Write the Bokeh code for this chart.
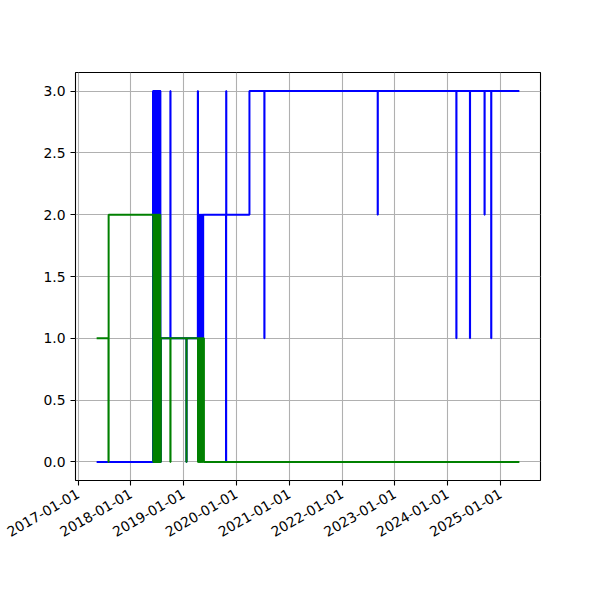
import math
from datetime import datetime
from bokeh.plotting import figure
from bokeh.models import Range1d, FixedTicker, DatetimeTickFormatter, NumeralTickFormatter
from bokeh.embed import file_html
from bokeh.resources import INLINE

blue_dates = [
    "2017-05-09", "2018-06-03", "2018-06-06", "2018-06-09", "2018-06-12", "2018-06-15",
    "2018-06-18", "2018-06-21", "2018-06-24", "2018-06-27", "2018-06-30", "2018-07-03",
    "2018-07-06", "2018-07-09", "2018-07-12", "2018-07-15", "2018-07-18", "2018-07-21",
    "2018-07-24", "2018-07-27", "2018-10-01", "2018-10-02", "2019-01-20", "2019-01-21",
    "2019-04-09", "2019-04-10", "2019-04-14", "2019-04-18", "2019-04-22", "2019-04-26",
    "2019-04-30", "2019-05-04", "2019-05-08", "2019-05-12", "2019-05-16", "2019-05-21",
    "2019-10-21", "2019-10-22", "2019-10-23", "2020-03-31", "2020-07-12", "2020-07-13",
    "2022-09-04", "2022-09-05", "2024-03-01", "2024-03-02", "2024-06-03", "2024-06-04",
    "2024-09-12", "2024-09-13", "2024-10-28", "2024-10-29", "2025-05-11",
]
blue_values = [
    0, 3, 0, 3, 0, 3,
    0, 3, 0, 3, 0, 3,
    0, 3, 0, 3, 0, 3,
    0, 1, 3, 1, 0, 1,
    3, 1, 2, 1, 2, 1,
    2, 1, 2, 1, 2, 2,
    0, 3, 2, 3, 1, 3,
    2, 3, 1, 3, 1, 3,
    2, 3, 1, 3, 3,
]

green_dates = [
    "2017-05-09", "2017-07-30", "2017-07-31", "2018-06-05", "2018-06-08", "2018-06-11",
    "2018-06-14", "2018-06-17", "2018-06-20", "2018-06-23", "2018-06-26", "2018-06-29",
    "2018-07-02", "2018-07-05", "2018-07-08", "2018-07-11", "2018-07-14", "2018-07-17",
    "2018-07-20", "2018-07-23", "2018-07-27", "2018-10-01", "2018-10-02", "2019-01-20",
    "2019-01-21", "2019-04-10", "2019-04-14", "2019-04-18", "2019-04-22", "2019-04-26",
    "2019-04-30", "2019-05-04", "2019-05-08", "2019-05-12", "2019-05-16", "2019-05-21",
    "2025-05-11",
]
green_values = [
    1, 0, 2, 0, 2, 0,
    2, 0, 2, 0, 2, 0,
    2, 0, 2, 0, 2, 0,
    2, 0, 1, 0, 1, 0,
    1, 0, 1, 0, 1, 0,
    1, 0, 1, 0, 1, 0,
    0,
]

year_ticks = ["2017-01-01", "2018-01-01", "2019-01-01", "2020-01-01", "2021-01-01",
              "2022-01-01", "2023-01-01", "2024-01-01", "2025-01-01"]
y_ticks = [0.0, 0.5, 1.0, 1.5, 2.0, 2.5, 3.0]

bx = [datetime.fromisoformat(d) for d in blue_dates]
gx = [datetime.fromisoformat(d) for d in green_dates]
all_x = bx + gx
xmin, xmax = min(all_x), max(all_x)
span = xmax - xmin
x_start = xmin - span * 0.05
x_end = xmax + span * 0.05

p = figure(
    x_axis_type="datetime",
    frame_width=465, frame_height=408,
    min_border_left=75, min_border_right=52, min_border_top=72, min_border_bottom=108,
    x_range=Range1d(x_start, x_end), y_range=Range1d(-0.15, 3.15),
    output_backend="svg", toolbar_location=None,
)

p.step(bx, blue_values, mode="after", line_color="#0000ff", line_width=2)
p.step(gx, green_values, mode="after", line_color="#008000", line_width=2)

def ms(d):
    return (datetime.fromisoformat(d) - datetime(1970, 1, 1)).total_seconds() * 1000

p.xaxis.ticker = FixedTicker(ticks=[ms(d) for d in year_ticks])
fmt = "%Y-%m-%d"
p.xaxis.formatter = DatetimeTickFormatter(
    milliseconds=fmt, seconds=fmt, minsec=fmt, minutes=fmt, hourmin=fmt, hours=fmt,
    days=fmt, months=fmt, years=fmt)
p.xaxis.major_label_orientation = math.pi / 6
p.yaxis.ticker = FixedTicker(ticks=y_ticks)
p.yaxis.formatter = NumeralTickFormatter(format="0.0")

for ax in [p.xaxis, p.yaxis]:
    ax.major_label_text_font = "DejaVu Sans"
    ax.major_label_text_font_size = "13.9px"
    ax.major_label_text_color = "black"
    ax.major_tick_out = 5
    ax.major_tick_in = 0
    ax.minor_tick_out = 0
    ax.minor_tick_in = 0
    ax.axis_line_color = None
    ax.major_tick_line_color = "black"
    ax.major_tick_line_width = 1.1
    ax.major_label_standoff = 5
p.xaxis.major_label_standoff = 7

p.grid.grid_line_color = "#b0b0b0"
p.grid.grid_line_width = 1.1
p.outline_line_color = "black"
p.outline_line_width = 1.1
p.outline_line_alpha = 1.0
p.background_fill_color = "white"
p.border_fill_color = "white"

open("out.html", "w").write(file_html(p, INLINE))
